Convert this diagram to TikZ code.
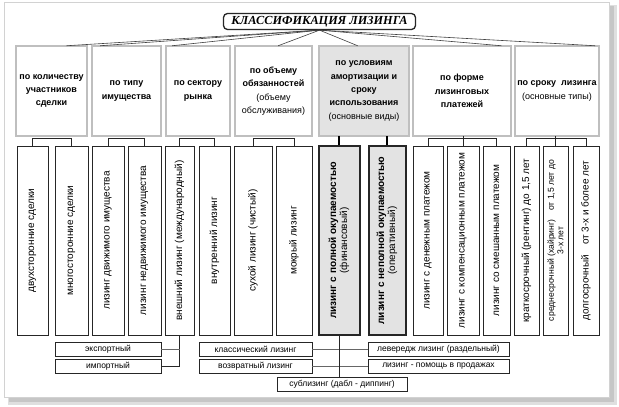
\documentclass[tikz,border=0pt]{standalone}
\usepackage{fontspec}
\setmainfont{Liberation Sans}
\newfontfamily\titlefont{Liberation Serif}
\usetikzlibrary{calc}
\begin{document}
\begin{tikzpicture}[x=1pt,y=-1pt,
  titlebox/.style={draw=black!85, line width=1.3pt, rounded corners=4pt, fill=white,
    minimum width=192, minimum height=16, inner sep=0pt,
    font=\titlefont\fontsize{12.3}{14}\selectfont\bfseries\itshape},
  cat/.style={draw=black!80, line width=0.5pt, double=gray!50, double distance=1.5pt,
    fill=white, align=center, inner sep=1pt, minimum height=90,
    font=\fontsize{9}{13.3}\selectfont\bfseries},
  keycat/.style={cat, fill=gray!22},
  leaf/.style={draw=black!85, line width=0.8pt, fill=white, rotate=90, align=center,
    inner sep=1pt, minimum width=189, font=\fontsize{10}{11}\selectfont},
  keyleaf/.style={leaf, line width=2pt, fill=gray!22},
  sub/.style={draw=black!85, line width=0.8pt, fill=white, minimum height=14,
    inner sep=0pt, font=\fontsize{8.5}{9}\selectfont},
  conn/.style={draw=black!85, line width=0.7pt},
  keyconn/.style={draw=black, line width=1.6pt},
  fan/.style={draw=black!75, line width=0.6pt}]
\useasboundingbox (0,0) rectangle (619,407);
% card with shadow
\fill[gray!25] (8,5) rectangle (617,405);
\fill[gray!45] (9,6) rectangle (614,402);
\draw[gray!35, fill=white] (4,2) rectangle (609,397);

% title
\node[titlebox] (t) at (319.5,21.5) {КЛАССИФИКАЦИЯ ЛИЗИНГА};

% categories
\node[cat, minimum width=71] (k1) at (51.5,91) {по количеству\\участников\\сделки};
\node[cat, minimum width=69] (k2) at (126.5,91) {по типу\\имущества};
\node[cat, minimum width=64] (k3) at (198,91) {по сектору\\рынка};
\node[cat, minimum width=77] (k4) at (273.5,91) {по объему\\обязанностей\\\mdseries(объему\\\mdseries обслуживания)};
\node[keycat, minimum width=90] (k5) at (364,91) {по условиям\\амортизации и\\сроку\\использования\\\mdseries(основные виды)};
\node[cat, minimum width=98] (k6) at (462,91) {по форме\\лизинговых\\платежей};
\node[cat, minimum width=84] (k7) at (557,91) {по сроку\ \ лизинга\\\mdseries(основные типы)};

% fan from title
\draw[fan] (t.south) -- ($(k1.north west)!0.71!(k1.north east)$);
\draw[fan] (t.south) -- ($(k2.north west)!0.12!(k2.north east)$);
\draw[fan] (t.south) -- ($(k3.north west)!0.10!(k3.north east)$);
\draw[fan] (t.south) -- ($(k4.north west)!0.56!(k4.north east)$);
\draw[fan] (t.south) -- ($(k5.north west)!0.43!(k5.north east)$);
\draw[fan] (t.south) -- ($(k6.north west)!0.90!(k6.north east)$);
\draw[fan] (t.south) -- ($(k7.north west)!0.95!(k7.north east)$);

% leaves
\node[leaf, minimum height=31] (c1) at (32.5,240.5) {двухсторонние сделки};
\node[leaf, minimum height=33] (c2) at (71.5,240.5) {многосторонние сделки};
\node[leaf, minimum height=32] (c3) at (108,240.5) {лизинг движимого имущества};
\node[leaf, minimum height=33] (c4) at (144.5,240.5) {лизинг недвижимого имущества};
\node[leaf, minimum height=29] (c5) at (179.5,240.5) {внешний лизинг (международный)};
\node[leaf, minimum height=31] (c6) at (214.5,240.5) {внутренний лизинг};
\node[leaf, minimum height=38] (c7) at (253,240.5) {сухой лизинг (чистый)};
\node[leaf, minimum height=36] (c8) at (294,240.5) {мокрый лизинг};
\node[keyleaf, minimum height=41] (c9) at (339,240.5) {\bfseries лизинг с полной окупаемостью\\(финансовый)};
\node[keyleaf, minimum height=37] (c10) at (387,240.5) {\bfseries лизинг с неполной окупаемостью\\(оперативный)};
\node[leaf, minimum height=30] (c11) at (428,240.5) {лизинг с денежным платежом};
\node[leaf, minimum height=32] (c12) at (463,240.5) {лизинг с компенсационным платежом};
\node[leaf, minimum height=27] (c13) at (496.5,240.5) {лизинг со смешанным платежом};
\node[leaf, minimum height=25] (c14) at (526.5,240.5) {краткосрочный (рентинг) до 1,5 лет};
\node[leaf, minimum height=25, font=\fontsize{8.6}{9.5}\selectfont] (c15) at (555.5,240.5) {среднесрочный (хайринг)\quad от 1,5 лет до\\3-х лет};
\node[leaf, minimum height=26] (c16) at (586,240.5) {долгосрочный\quad от 3-х и более лет};

% tree connectors
\draw[conn] (c1.east) |- ([yshift=-2pt]k1.south) -| (c2.east);
\draw[conn] (c3.east) |- ([yshift=-2pt]k2.south) -| (c4.east);
\draw[conn] (c5.east) |- ([yshift=-2pt]k3.south) -| (c6.east);
\draw[conn] (c7.east) |- ([yshift=-2pt]k4.south) -| (c8.east);
\draw[keyconn] (c9.east) -- (c9.east |- k5.south);
\draw[keyconn] (c10.east) -- (c10.east |- k5.south);
\draw[conn] (c11.east) |- ([yshift=-2pt]k6.south) -| (c13.east);
\draw[conn] (c12.east) -- (c12.east |- k6.south);
\draw[conn] (c14.east) |- ([yshift=-2pt]k7.south) -| (c16.east);
\draw[conn] (c15.east) -- (c15.east |- k7.south);

% bottom boxes
\node[sub, minimum width=106] (exp) at (108,349) {экспортный};
\node[sub, minimum width=106] (imp) at (108,366.5) {импортный};
\node[sub, minimum width=113] (kl) at (255.5,349) {классический лизинг};
\node[sub, minimum width=113] (vz) at (255.5,366.5) {возвратный лизинг};
\node[sub, minimum width=141] (lv) at (438.5,349) {левередж лизинг (раздельный)};
\node[sub, minimum width=141] (hp) at (438.5,366.5) {лизинг - помощь в продажах};
\node[sub, minimum width=130] (sb) at (342,384) {сублизинг (дабл - диппинг)};

\draw[conn] (c5.west) |- (imp.east);
\draw[conn, draw=black!60] (exp.east) -- (exp.east -| c5.west);
\draw[conn, draw=black!60] (kl.east) -- (lv.west);
\draw[conn, draw=black!60] (vz.east) -- (hp.west);
\draw[conn] (c9.west) -- (c9.west |- sb.north);
\end{tikzpicture}
\end{document}
